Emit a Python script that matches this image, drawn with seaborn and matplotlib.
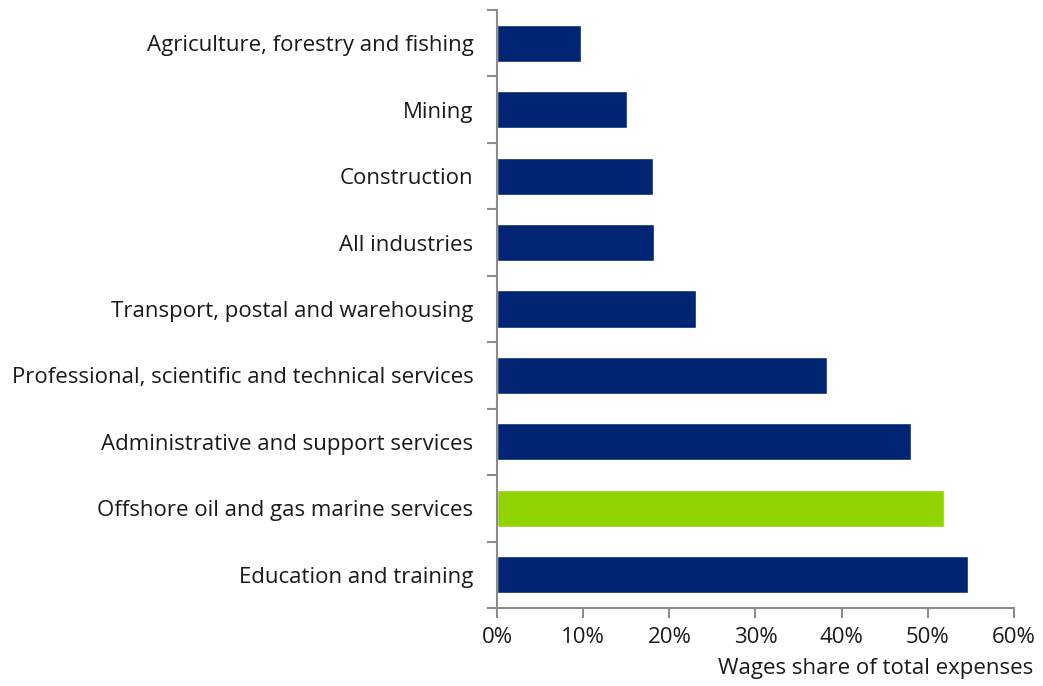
import matplotlib
matplotlib.use("Agg")
import matplotlib.pyplot as plt
import seaborn as sns
import pandas as pd
import numpy as np
from matplotlib.ticker import PercentFormatter

categories = [
    "Agriculture, forestry and fishing",
    "Mining",
    "Construction",
    "All industries",
    "Transport, postal and warehousing",
    "Professional, scientific and technical services",
    "Administrative and support services",
    "Offshore oil and gas marine services",
    "Education and training",
]
values = [9.8, 15.1, 18.1, 18.2, 23.1, 38.3, 48.1, 51.9, 54.7]
highlight = "Offshore oil and gas marine services"
x_label = "Wages share of total expenses"

sns.set_style("white")
plt.rcParams["font.family"] = ["Open Sans", "DejaVu Sans"]

df = pd.DataFrame({"cat": categories, "val": values})
palette = {c: ("#92D400" if c == highlight else "#002673") for c in categories}

fig = plt.figure(figsize=(10.43, 6.86), dpi=100)
ax = fig.add_axes([0.4765, 0.1137, 0.4957, 0.8717])
sns.barplot(data=df, x="val", y="cat", hue="cat", palette=palette, order=categories,
            hue_order=categories, width=0.56, legend=False, ax=ax, saturation=1)

ax.set_xlim(0, 60)
ax.set_ylim(len(categories) - 0.5, -0.5)
ax.set_xticks(np.arange(0, 61, 10))
ax.xaxis.set_major_formatter(PercentFormatter(decimals=0))
ax.set_ylabel("")
ax.set_xlabel(x_label, fontsize=16, color="#1a1a1a", ha="right")
ax.xaxis.set_label_coords(1.037, -0.083)

for s in ["top", "right"]:
    ax.spines[s].set_visible(False)
for s in ["left", "bottom"]:
    ax.spines[s].set_color("#8c8c8c")
    ax.spines[s].set_linewidth(1.5)

ax.set_yticks(np.arange(-0.5, len(categories), 1), minor=True)
ax.tick_params(axis="y", which="major", length=0, pad=17, labelsize=16, labelcolor="#1a1a1a")
ax.tick_params(axis="y", which="minor", length=7, width=1.5, color="#8c8c8c", direction="out", left=True)
ax.tick_params(axis="x", which="major", length=7, width=1.5, color="#8c8c8c", direction="out",
               bottom=True, labelsize=16, labelcolor="#1a1a1a", pad=7)

fig.savefig("out.png", dpi=100)
